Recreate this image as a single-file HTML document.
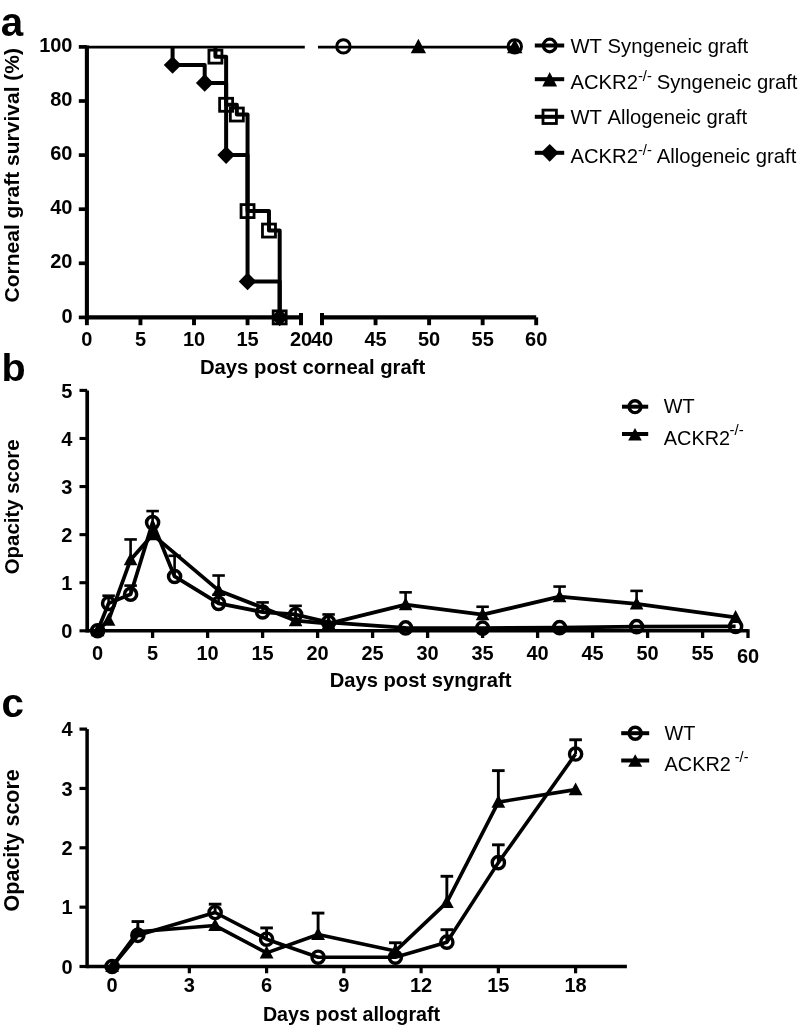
<!DOCTYPE html>
<html lang="en"><head><meta charset="utf-8"><title>Corneal graft survival and opacity</title>
<style>
html,body{margin:0;padding:0;background:#fff;}
svg{display:block;font-family:"Liberation Sans", sans-serif;fill:#000;font-kerning:none;will-change:transform;}
</style></head>
<body>
<svg width="799" height="1028" viewBox="0 0 799 1028">
<rect x="0" y="0" width="799" height="1028" fill="#fff" stroke="none"/>
<text x="0.80" y="35.50" font-size="40.3" font-weight="bold" text-anchor="start" >a</text>
<line x1="86.90" y1="45.60" x2="86.90" y2="319.50" stroke="#000" stroke-width="4.1" />
<line x1="78.80" y1="317.40" x2="86.90" y2="317.40" stroke="#000" stroke-width="3.7" />
<text x="72.50" y="322.50" font-size="20" font-weight="bold" text-anchor="end" >0</text>
<line x1="78.80" y1="263.30" x2="86.90" y2="263.30" stroke="#000" stroke-width="3.7" />
<text x="72.50" y="268.40" font-size="20" font-weight="bold" text-anchor="end" >20</text>
<line x1="78.80" y1="209.20" x2="86.90" y2="209.20" stroke="#000" stroke-width="3.7" />
<text x="72.50" y="214.30" font-size="20" font-weight="bold" text-anchor="end" >40</text>
<line x1="78.80" y1="155.10" x2="86.90" y2="155.10" stroke="#000" stroke-width="3.7" />
<text x="72.50" y="160.20" font-size="20" font-weight="bold" text-anchor="end" >60</text>
<line x1="78.80" y1="101.00" x2="86.90" y2="101.00" stroke="#000" stroke-width="3.7" />
<text x="72.50" y="106.10" font-size="20" font-weight="bold" text-anchor="end" >80</text>
<line x1="78.80" y1="46.90" x2="86.90" y2="46.90" stroke="#000" stroke-width="3.7" />
<text x="72.50" y="52.00" font-size="20" font-weight="bold" text-anchor="end" >100</text>
<line x1="86.90" y1="317.40" x2="301.00" y2="317.40" stroke="#000" stroke-width="4.2" />
<line x1="86.90" y1="317.40" x2="86.90" y2="325.20" stroke="#000" stroke-width="3.9" />
<text x="86.90" y="345.60" font-size="20" font-weight="bold" text-anchor="middle" >0</text>
<line x1="140.45" y1="317.40" x2="140.45" y2="325.20" stroke="#000" stroke-width="3.9" />
<text x="140.45" y="345.60" font-size="20" font-weight="bold" text-anchor="middle" >5</text>
<line x1="194.00" y1="317.40" x2="194.00" y2="325.20" stroke="#000" stroke-width="3.9" />
<text x="194.00" y="345.60" font-size="20" font-weight="bold" text-anchor="middle" >10</text>
<line x1="247.55" y1="317.40" x2="247.55" y2="325.20" stroke="#000" stroke-width="3.9" />
<text x="247.55" y="345.60" font-size="20" font-weight="bold" text-anchor="middle" >15</text>
<line x1="301.00" y1="313.00" x2="301.00" y2="325.20" stroke="#000" stroke-width="4" />
<text x="301.00" y="345.60" font-size="20" font-weight="bold" text-anchor="middle" >20</text>
<line x1="322.00" y1="317.40" x2="536.20" y2="317.40" stroke="#000" stroke-width="4.2" />
<line x1="322.00" y1="313.00" x2="322.00" y2="325.20" stroke="#000" stroke-width="4" />
<text x="322.00" y="345.60" font-size="20" font-weight="bold" text-anchor="middle" >40</text>
<line x1="375.55" y1="317.40" x2="375.55" y2="325.20" stroke="#000" stroke-width="3.9" />
<text x="375.55" y="345.60" font-size="20" font-weight="bold" text-anchor="middle" >45</text>
<line x1="429.10" y1="317.40" x2="429.10" y2="325.20" stroke="#000" stroke-width="3.9" />
<text x="429.10" y="345.60" font-size="20" font-weight="bold" text-anchor="middle" >50</text>
<line x1="482.65" y1="317.40" x2="482.65" y2="325.20" stroke="#000" stroke-width="3.9" />
<text x="482.65" y="345.60" font-size="20" font-weight="bold" text-anchor="middle" >55</text>
<line x1="536.20" y1="317.40" x2="536.20" y2="325.20" stroke="#000" stroke-width="3.9" />
<text x="536.20" y="345.60" font-size="20" font-weight="bold" text-anchor="middle" >60</text>
<text x="312.60" y="374.00" font-size="20.3" font-weight="bold" text-anchor="middle" >Days post corneal graft</text>
<text transform="translate(19.1,175.2) rotate(-90)" font-size="21" font-weight="bold" text-anchor="middle">Corneal graft survival (%)</text>
<line x1="86.90" y1="47.10" x2="304.80" y2="47.10" stroke="#000" stroke-width="2.7" />
<line x1="318.00" y1="47.10" x2="514.78" y2="47.10" stroke="#000" stroke-width="2.7" />
<polyline fill="none" stroke="#000" stroke-width="4" stroke-linejoin="round" points="172.58,46.90 172.58,65.02 204.71,65.02 204.71,82.88 226.13,82.88 226.13,155.10 247.55,155.10 247.55,281.42 279.68,281.42 279.68,317.40"/>
<polyline fill="none" stroke="#000" stroke-width="4" stroke-linejoin="round" points="215.42,46.90 215.42,56.64 226.13,56.64 226.13,104.79 236.84,104.79 236.84,114.52 247.55,114.52 247.55,211.09 268.97,211.09 268.97,230.57 279.68,230.57 279.68,317.40"/>
<rect x="208.92" y="50.14" width="13" height="13" fill="none" stroke="#000" stroke-width="2.8"/>
<rect x="219.63" y="98.29" width="13" height="13" fill="none" stroke="#000" stroke-width="2.8"/>
<rect x="230.34" y="108.02" width="13" height="13" fill="none" stroke="#000" stroke-width="2.8"/>
<rect x="241.05" y="204.59" width="13" height="13" fill="none" stroke="#000" stroke-width="2.8"/>
<rect x="262.47" y="224.07" width="13" height="13" fill="none" stroke="#000" stroke-width="2.8"/>
<rect x="273.18" y="310.90" width="13" height="13" fill="none" stroke="#000" stroke-width="2.8"/>
<polygon points="172.58,56.22 181.38,65.02 172.58,73.82 163.78,65.02" fill="#000"/>
<polygon points="204.71,74.08 213.51,82.88 204.71,91.68 195.91,82.88" fill="#000"/>
<polygon points="226.13,146.30 234.93,155.10 226.13,163.90 217.33,155.10" fill="#000"/>
<polygon points="247.55,272.62 256.35,281.42 247.55,290.22 238.75,281.42" fill="#000"/>
<polygon points="279.68,308.60 288.48,317.40 279.68,326.20 270.88,317.40" fill="#000"/>
<circle cx="343.42" cy="46.40" r="6.7" fill="none" stroke="#000" stroke-width="3"/>
<polygon points="418.39,38.71 426.04,53.21 410.74,53.21" fill="#000"/>
<circle cx="514.78" cy="46.40" r="6.7" fill="none" stroke="#000" stroke-width="3"/>
<polygon points="514.78,38.71 522.43,53.21 507.13,53.21" fill="#000"/>
<line x1="534.80" y1="45.50" x2="564.20" y2="45.50" stroke="#000" stroke-width="4" />
<circle cx="549.70" cy="45.50" r="6.3" fill="none" stroke="#000" stroke-width="3.2"/>
<text x="570.40" y="52.80" font-size="20.25" font-weight="normal" text-anchor="start" >WT Syngeneic graft</text>
<line x1="534.80" y1="79.20" x2="564.20" y2="79.20" stroke="#000" stroke-width="4" />
<polygon points="549.70,72.00 557.10,86.50 542.30,86.50" fill="#000"/>
<text x="570.40" y="89.00" font-size="20.25" font-weight="normal" text-anchor="start" >ACKR2<tspan dy="-8.2" font-size="14.8">-/-</tspan><tspan dy="8.2" dx="-0.8"> Syngeneic graft</tspan></text>
<line x1="534.80" y1="116.80" x2="564.20" y2="116.80" stroke="#000" stroke-width="4" />
<rect x="543.00" y="110.10" width="13.4" height="13.4" fill="none" stroke="#000" stroke-width="2.8"/>
<text x="570.40" y="124.00" font-size="20.25" font-weight="normal" text-anchor="start" >WT Allogeneic graft</text>
<line x1="534.80" y1="152.80" x2="564.20" y2="152.80" stroke="#000" stroke-width="4" />
<polygon points="549.70,143.90 558.60,152.80 549.70,161.70 540.80,152.80" fill="#000"/>
<text x="570.40" y="162.80" font-size="20.25" font-weight="normal" text-anchor="start" >ACKR2<tspan dy="-8.2" font-size="14.8">-/-</tspan><tspan dy="8.2" dx="-0.8"> Allogeneic graft</tspan></text>
<text x="1.40" y="381.10" font-size="39.5" font-weight="bold" text-anchor="start" >b</text>
<line x1="87.20" y1="390.40" x2="87.20" y2="632.60" stroke="#000" stroke-width="3.7" />
<line x1="79.50" y1="630.80" x2="87.20" y2="630.80" stroke="#000" stroke-width="3.1" />
<text x="72.30" y="637.90" font-size="20" font-weight="bold" text-anchor="end" >0</text>
<line x1="79.50" y1="582.72" x2="87.20" y2="582.72" stroke="#000" stroke-width="3.1" />
<text x="72.30" y="589.82" font-size="20" font-weight="bold" text-anchor="end" >1</text>
<line x1="79.50" y1="534.64" x2="87.20" y2="534.64" stroke="#000" stroke-width="3.1" />
<text x="72.30" y="541.74" font-size="20" font-weight="bold" text-anchor="end" >2</text>
<line x1="79.50" y1="486.56" x2="87.20" y2="486.56" stroke="#000" stroke-width="3.1" />
<text x="72.30" y="493.66" font-size="20" font-weight="bold" text-anchor="end" >3</text>
<line x1="79.50" y1="438.48" x2="87.20" y2="438.48" stroke="#000" stroke-width="3.1" />
<text x="72.30" y="445.58" font-size="20" font-weight="bold" text-anchor="end" >4</text>
<line x1="79.50" y1="390.40" x2="87.20" y2="390.40" stroke="#000" stroke-width="3.1" />
<text x="72.30" y="397.50" font-size="20" font-weight="bold" text-anchor="end" >5</text>
<line x1="87.20" y1="630.80" x2="748.00" y2="630.80" stroke="#000" stroke-width="3.6" />
<line x1="97.60" y1="630.80" x2="97.60" y2="638.00" stroke="#000" stroke-width="3.3" />
<text x="97.60" y="659.50" font-size="20" font-weight="bold" text-anchor="middle" >0</text>
<line x1="152.60" y1="630.80" x2="152.60" y2="638.00" stroke="#000" stroke-width="3.3" />
<text x="152.60" y="659.50" font-size="20" font-weight="bold" text-anchor="middle" >5</text>
<line x1="207.60" y1="630.80" x2="207.60" y2="638.00" stroke="#000" stroke-width="3.3" />
<text x="207.60" y="659.50" font-size="20" font-weight="bold" text-anchor="middle" >10</text>
<line x1="262.60" y1="630.80" x2="262.60" y2="638.00" stroke="#000" stroke-width="3.3" />
<text x="262.60" y="659.50" font-size="20" font-weight="bold" text-anchor="middle" >15</text>
<line x1="317.60" y1="630.80" x2="317.60" y2="638.00" stroke="#000" stroke-width="3.3" />
<text x="317.60" y="659.50" font-size="20" font-weight="bold" text-anchor="middle" >20</text>
<line x1="372.60" y1="630.80" x2="372.60" y2="638.00" stroke="#000" stroke-width="3.3" />
<text x="372.60" y="659.50" font-size="20" font-weight="bold" text-anchor="middle" >25</text>
<line x1="427.60" y1="630.80" x2="427.60" y2="638.00" stroke="#000" stroke-width="3.3" />
<text x="427.60" y="659.50" font-size="20" font-weight="bold" text-anchor="middle" >30</text>
<line x1="482.60" y1="630.80" x2="482.60" y2="638.00" stroke="#000" stroke-width="3.3" />
<text x="482.60" y="659.50" font-size="20" font-weight="bold" text-anchor="middle" >35</text>
<line x1="537.60" y1="630.80" x2="537.60" y2="638.00" stroke="#000" stroke-width="3.3" />
<text x="537.60" y="659.50" font-size="20" font-weight="bold" text-anchor="middle" >40</text>
<line x1="592.60" y1="630.80" x2="592.60" y2="638.00" stroke="#000" stroke-width="3.3" />
<text x="592.60" y="659.50" font-size="20" font-weight="bold" text-anchor="middle" >45</text>
<line x1="647.60" y1="630.80" x2="647.60" y2="638.00" stroke="#000" stroke-width="3.3" />
<text x="647.60" y="659.50" font-size="20" font-weight="bold" text-anchor="middle" >50</text>
<line x1="702.60" y1="630.80" x2="702.60" y2="638.00" stroke="#000" stroke-width="3.3" />
<text x="702.60" y="659.50" font-size="20" font-weight="bold" text-anchor="middle" >55</text>
<line x1="748.00" y1="629.20" x2="748.00" y2="638.00" stroke="#000" stroke-width="3.3" />
<text x="748.00" y="662.50" font-size="20" font-weight="bold" text-anchor="middle" >60</text>
<text x="420.50" y="686.50" font-size="20.2" font-weight="bold" text-anchor="middle" >Days post syngraft</text>
<text transform="translate(19.0,506.8) rotate(-90)" font-size="20.4" font-weight="bold" text-anchor="middle">Opacity score</text>
<line x1="130.60" y1="559.64" x2="130.60" y2="539.45" stroke="#000" stroke-width="2.6" />
<line x1="124.35" y1="539.45" x2="136.85" y2="539.45" stroke="#000" stroke-width="2.6" />
<line x1="218.60" y1="590.41" x2="218.60" y2="575.51" stroke="#000" stroke-width="2.6" />
<line x1="212.35" y1="575.51" x2="224.85" y2="575.51" stroke="#000" stroke-width="2.6" />
<line x1="405.60" y1="604.60" x2="405.60" y2="592.34" stroke="#000" stroke-width="2.6" />
<line x1="399.35" y1="592.34" x2="411.85" y2="592.34" stroke="#000" stroke-width="2.6" />
<line x1="482.60" y1="614.69" x2="482.60" y2="606.76" stroke="#000" stroke-width="2.6" />
<line x1="476.35" y1="606.76" x2="488.85" y2="606.76" stroke="#000" stroke-width="2.6" />
<line x1="559.60" y1="596.66" x2="559.60" y2="586.57" stroke="#000" stroke-width="2.6" />
<line x1="553.35" y1="586.57" x2="565.85" y2="586.57" stroke="#000" stroke-width="2.6" />
<line x1="636.60" y1="603.88" x2="636.60" y2="590.89" stroke="#000" stroke-width="2.6" />
<line x1="630.35" y1="590.89" x2="642.85" y2="590.89" stroke="#000" stroke-width="2.6" />
<line x1="108.60" y1="603.39" x2="108.60" y2="595.70" stroke="#000" stroke-width="2.6" />
<line x1="102.35" y1="595.70" x2="114.85" y2="595.70" stroke="#000" stroke-width="2.6" />
<line x1="130.60" y1="594.26" x2="130.60" y2="585.60" stroke="#000" stroke-width="2.6" />
<line x1="124.35" y1="585.60" x2="136.85" y2="585.60" stroke="#000" stroke-width="2.6" />
<line x1="152.60" y1="522.62" x2="152.60" y2="511.08" stroke="#000" stroke-width="2.6" />
<line x1="146.35" y1="511.08" x2="158.85" y2="511.08" stroke="#000" stroke-width="2.6" />
<line x1="174.60" y1="576.47" x2="174.60" y2="555.80" stroke="#000" stroke-width="2.6" />
<line x1="168.35" y1="555.80" x2="180.85" y2="555.80" stroke="#000" stroke-width="2.6" />
<line x1="218.60" y1="603.39" x2="218.60" y2="594.74" stroke="#000" stroke-width="2.6" />
<line x1="212.35" y1="594.74" x2="224.85" y2="594.74" stroke="#000" stroke-width="2.6" />
<line x1="262.60" y1="612.05" x2="262.60" y2="602.43" stroke="#000" stroke-width="2.6" />
<line x1="256.35" y1="602.43" x2="268.85" y2="602.43" stroke="#000" stroke-width="2.6" />
<line x1="295.60" y1="614.45" x2="295.60" y2="605.80" stroke="#000" stroke-width="2.6" />
<line x1="289.35" y1="605.80" x2="301.85" y2="605.80" stroke="#000" stroke-width="2.6" />
<line x1="328.60" y1="622.39" x2="328.60" y2="614.45" stroke="#000" stroke-width="2.6" />
<line x1="322.35" y1="614.45" x2="334.85" y2="614.45" stroke="#000" stroke-width="2.6" />
<polyline fill="none" stroke="#000" stroke-width="3.75" stroke-linejoin="round" points="97.60,630.80 108.60,620.22 130.60,559.64 152.60,534.64 218.60,590.41 295.60,620.70 328.60,623.59 405.60,604.60 482.60,614.69 559.60,596.66 636.60,603.88 735.60,617.34"/>
<polyline fill="none" stroke="#000" stroke-width="3.75" stroke-linejoin="round" points="97.60,630.80 108.60,603.39 130.60,594.26 152.60,522.62 174.60,576.47 218.60,603.39 262.60,612.05 295.60,614.45 328.60,622.39 405.60,627.92 482.60,628.16 559.60,627.67 636.60,626.67 735.60,626.47"/>
<polygon points="97.60,623.57 104.40,636.37 90.80,636.37" fill="#000"/>
<polygon points="108.60,612.99 115.40,625.79 101.80,625.79" fill="#000"/>
<polygon points="130.60,552.41 137.40,565.21 123.80,565.21" fill="#000"/>
<polygon points="152.60,527.41 159.40,540.21 145.80,540.21" fill="#000"/>
<polygon points="218.60,583.18 225.40,595.98 211.80,595.98" fill="#000"/>
<polygon points="295.60,613.47 302.40,626.27 288.80,626.27" fill="#000"/>
<polygon points="328.60,616.36 335.40,629.16 321.80,629.16" fill="#000"/>
<polygon points="405.60,597.36 412.40,610.16 398.80,610.16" fill="#000"/>
<polygon points="482.60,607.46 489.40,620.26 475.80,620.26" fill="#000"/>
<polygon points="559.60,589.43 566.40,602.23 552.80,602.23" fill="#000"/>
<polygon points="636.60,596.64 643.40,609.44 629.80,609.44" fill="#000"/>
<polygon points="735.60,610.11 742.40,622.91 728.80,622.91" fill="#000"/>
<circle cx="97.60" cy="630.80" r="6.05" fill="none" stroke="#000" stroke-width="3.5"/>
<circle cx="108.60" cy="603.39" r="6.05" fill="none" stroke="#000" stroke-width="3.5"/>
<circle cx="130.60" cy="594.26" r="6.05" fill="none" stroke="#000" stroke-width="3.5"/>
<circle cx="152.60" cy="522.62" r="6.05" fill="none" stroke="#000" stroke-width="3.5"/>
<circle cx="174.60" cy="576.47" r="6.05" fill="none" stroke="#000" stroke-width="3.5"/>
<circle cx="218.60" cy="603.39" r="6.05" fill="none" stroke="#000" stroke-width="3.5"/>
<circle cx="262.60" cy="612.05" r="6.05" fill="none" stroke="#000" stroke-width="3.5"/>
<circle cx="295.60" cy="614.45" r="6.05" fill="none" stroke="#000" stroke-width="3.5"/>
<circle cx="328.60" cy="622.39" r="6.05" fill="none" stroke="#000" stroke-width="3.5"/>
<circle cx="405.60" cy="627.92" r="6.05" fill="none" stroke="#000" stroke-width="3.5"/>
<circle cx="482.60" cy="628.16" r="6.05" fill="none" stroke="#000" stroke-width="3.5"/>
<circle cx="559.60" cy="627.67" r="6.05" fill="none" stroke="#000" stroke-width="3.5"/>
<circle cx="636.60" cy="626.67" r="6.05" fill="none" stroke="#000" stroke-width="3.5"/>
<circle cx="735.60" cy="626.47" r="6.05" fill="none" stroke="#000" stroke-width="3.5"/>
<line x1="622.00" y1="406.70" x2="648.20" y2="406.70" stroke="#000" stroke-width="4" />
<circle cx="635.00" cy="406.70" r="5.9" fill="none" stroke="#000" stroke-width="3.4"/>
<line x1="622.00" y1="434.00" x2="648.20" y2="434.00" stroke="#000" stroke-width="4" />
<polygon points="635,427.90 641.8,440.50 628.2,440.50" fill="#000"/>
<text x="663.80" y="413.20" font-size="19.9" font-weight="normal" text-anchor="start" >WT</text>
<text x="663.80" y="444.50" font-size="19.9" font-weight="normal" text-anchor="start" >ACKR2<tspan dy="-9.2" dx="-0.6" font-size="15">-/-</tspan></text>
<text x="1.60" y="717.30" font-size="40.3" font-weight="bold" text-anchor="start" >c</text>
<line x1="87.10" y1="729.10" x2="87.10" y2="968.20" stroke="#000" stroke-width="3.5" />
<line x1="79.50" y1="966.50" x2="87.10" y2="966.50" stroke="#000" stroke-width="3.2" />
<text x="72.50" y="973.60" font-size="20" font-weight="bold" text-anchor="end" >0</text>
<line x1="79.50" y1="907.15" x2="87.10" y2="907.15" stroke="#000" stroke-width="3.2" />
<text x="72.50" y="914.25" font-size="20" font-weight="bold" text-anchor="end" >1</text>
<line x1="79.50" y1="847.80" x2="87.10" y2="847.80" stroke="#000" stroke-width="3.2" />
<text x="72.50" y="854.90" font-size="20" font-weight="bold" text-anchor="end" >2</text>
<line x1="79.50" y1="788.45" x2="87.10" y2="788.45" stroke="#000" stroke-width="3.2" />
<text x="72.50" y="795.55" font-size="20" font-weight="bold" text-anchor="end" >3</text>
<line x1="79.50" y1="729.10" x2="87.10" y2="729.10" stroke="#000" stroke-width="3.2" />
<text x="72.50" y="736.20" font-size="20" font-weight="bold" text-anchor="end" >4</text>
<line x1="87.10" y1="966.50" x2="626.90" y2="966.50" stroke="#000" stroke-width="3.6" />
<line x1="112.10" y1="966.50" x2="112.10" y2="973.30" stroke="#000" stroke-width="3.2" />
<text x="112.10" y="991.70" font-size="20" font-weight="bold" text-anchor="middle" >0</text>
<line x1="189.35" y1="966.50" x2="189.35" y2="973.30" stroke="#000" stroke-width="3.2" />
<text x="189.35" y="991.70" font-size="20" font-weight="bold" text-anchor="middle" >3</text>
<line x1="266.60" y1="966.50" x2="266.60" y2="973.30" stroke="#000" stroke-width="3.2" />
<text x="266.60" y="991.70" font-size="20" font-weight="bold" text-anchor="middle" >6</text>
<line x1="343.85" y1="966.50" x2="343.85" y2="973.30" stroke="#000" stroke-width="3.2" />
<text x="343.85" y="991.70" font-size="20" font-weight="bold" text-anchor="middle" >9</text>
<line x1="421.10" y1="966.50" x2="421.10" y2="973.30" stroke="#000" stroke-width="3.2" />
<text x="421.10" y="991.70" font-size="20" font-weight="bold" text-anchor="middle" >12</text>
<line x1="498.35" y1="966.50" x2="498.35" y2="973.30" stroke="#000" stroke-width="3.2" />
<text x="498.35" y="991.70" font-size="20" font-weight="bold" text-anchor="middle" >15</text>
<line x1="575.60" y1="966.50" x2="575.60" y2="973.30" stroke="#000" stroke-width="3.2" />
<text x="575.60" y="991.70" font-size="20" font-weight="bold" text-anchor="middle" >18</text>
<text x="351.50" y="1020.70" font-size="19.7" font-weight="bold" text-anchor="middle" >Days post allograft</text>
<text transform="translate(19.0,840.3) rotate(-90)" font-size="21.5" font-weight="bold" text-anchor="middle">Opacity score</text>
<line x1="137.85" y1="931.78" x2="137.85" y2="921.57" stroke="#000" stroke-width="2.9" />
<line x1="131.55" y1="921.57" x2="144.15" y2="921.57" stroke="#000" stroke-width="2.9" />
<line x1="318.10" y1="934.45" x2="318.10" y2="913.09" stroke="#000" stroke-width="2.9" />
<line x1="311.80" y1="913.09" x2="324.40" y2="913.09" stroke="#000" stroke-width="2.9" />
<line x1="395.35" y1="951.07" x2="395.35" y2="942.76" stroke="#000" stroke-width="2.9" />
<line x1="389.05" y1="942.76" x2="401.65" y2="942.76" stroke="#000" stroke-width="2.9" />
<line x1="446.85" y1="902.40" x2="446.85" y2="876.29" stroke="#000" stroke-width="2.9" />
<line x1="440.55" y1="876.29" x2="453.15" y2="876.29" stroke="#000" stroke-width="2.9" />
<line x1="498.35" y1="802.10" x2="498.35" y2="770.64" stroke="#000" stroke-width="2.9" />
<line x1="492.05" y1="770.64" x2="504.65" y2="770.64" stroke="#000" stroke-width="2.9" />
<line x1="215.10" y1="912.49" x2="215.10" y2="904.18" stroke="#000" stroke-width="2.9" />
<line x1="208.80" y1="904.18" x2="221.40" y2="904.18" stroke="#000" stroke-width="2.9" />
<line x1="266.60" y1="939.20" x2="266.60" y2="927.92" stroke="#000" stroke-width="2.9" />
<line x1="260.30" y1="927.92" x2="272.90" y2="927.92" stroke="#000" stroke-width="2.9" />
<line x1="446.85" y1="942.17" x2="446.85" y2="929.70" stroke="#000" stroke-width="2.9" />
<line x1="440.55" y1="929.70" x2="453.15" y2="929.70" stroke="#000" stroke-width="2.9" />
<line x1="498.35" y1="862.64" x2="498.35" y2="844.83" stroke="#000" stroke-width="2.9" />
<line x1="492.05" y1="844.83" x2="504.65" y2="844.83" stroke="#000" stroke-width="2.9" />
<line x1="575.60" y1="754.03" x2="575.60" y2="739.78" stroke="#000" stroke-width="2.9" />
<line x1="569.30" y1="739.78" x2="581.90" y2="739.78" stroke="#000" stroke-width="2.9" />
<polyline fill="none" stroke="#000" stroke-width="3.6" stroke-linejoin="round" points="112.10,966.50 137.85,931.78 215.10,925.55 266.60,952.85 318.10,934.45 395.35,951.07 446.85,902.40 498.35,802.10 575.60,789.64"/>
<polyline fill="none" stroke="#000" stroke-width="3.6" stroke-linejoin="round" points="112.10,966.50 137.85,935.34 215.10,912.49 266.60,939.20 318.10,957.18 395.35,957.18 446.85,942.17 498.35,862.64 575.60,754.03"/>
<polygon points="112.10,959.27 119.00,972.07 105.20,972.07" fill="#000"/>
<polygon points="137.85,924.55 144.75,937.35 130.95,937.35" fill="#000"/>
<polygon points="215.10,918.32 222.00,931.12 208.20,931.12" fill="#000"/>
<polygon points="266.60,945.62 273.50,958.42 259.70,958.42" fill="#000"/>
<polygon points="318.10,927.22 325.00,940.02 311.20,940.02" fill="#000"/>
<polygon points="395.35,943.84 402.25,956.64 388.45,956.64" fill="#000"/>
<polygon points="446.85,895.17 453.75,907.97 439.95,907.97" fill="#000"/>
<polygon points="498.35,794.87 505.25,807.67 491.45,807.67" fill="#000"/>
<polygon points="575.60,782.40 582.50,795.20 568.70,795.20" fill="#000"/>
<circle cx="112.10" cy="966.50" r="6.1" fill="none" stroke="#000" stroke-width="3.4"/>
<circle cx="137.85" cy="935.34" r="6.1" fill="none" stroke="#000" stroke-width="3.4"/>
<circle cx="215.10" cy="912.49" r="6.1" fill="none" stroke="#000" stroke-width="3.4"/>
<circle cx="266.60" cy="939.20" r="6.1" fill="none" stroke="#000" stroke-width="3.4"/>
<circle cx="318.10" cy="957.18" r="6.1" fill="none" stroke="#000" stroke-width="3.4"/>
<circle cx="395.35" cy="957.18" r="6.1" fill="none" stroke="#000" stroke-width="3.4"/>
<circle cx="446.85" cy="942.17" r="6.1" fill="none" stroke="#000" stroke-width="3.4"/>
<circle cx="498.35" cy="862.64" r="6.1" fill="none" stroke="#000" stroke-width="3.4"/>
<circle cx="575.60" cy="754.03" r="6.1" fill="none" stroke="#000" stroke-width="3.4"/>
<line x1="621.20" y1="733.20" x2="649.20" y2="733.20" stroke="#000" stroke-width="4" />
<circle cx="635.20" cy="733.20" r="6.0" fill="none" stroke="#000" stroke-width="3.5"/>
<line x1="621.20" y1="760.50" x2="649.20" y2="760.50" stroke="#000" stroke-width="4" />
<polygon points="635.2,754.20 642.2,766.80 628.2,766.80" fill="#000"/>
<text x="664.60" y="739.80" font-size="19.85" font-weight="normal" text-anchor="start" >WT</text>
<text x="664.60" y="770.50" font-size="19.85" font-weight="normal" text-anchor="start" >ACKR2<tspan dy="-9" font-size="14.5"> -/-</tspan></text>
</svg>
</body></html>
